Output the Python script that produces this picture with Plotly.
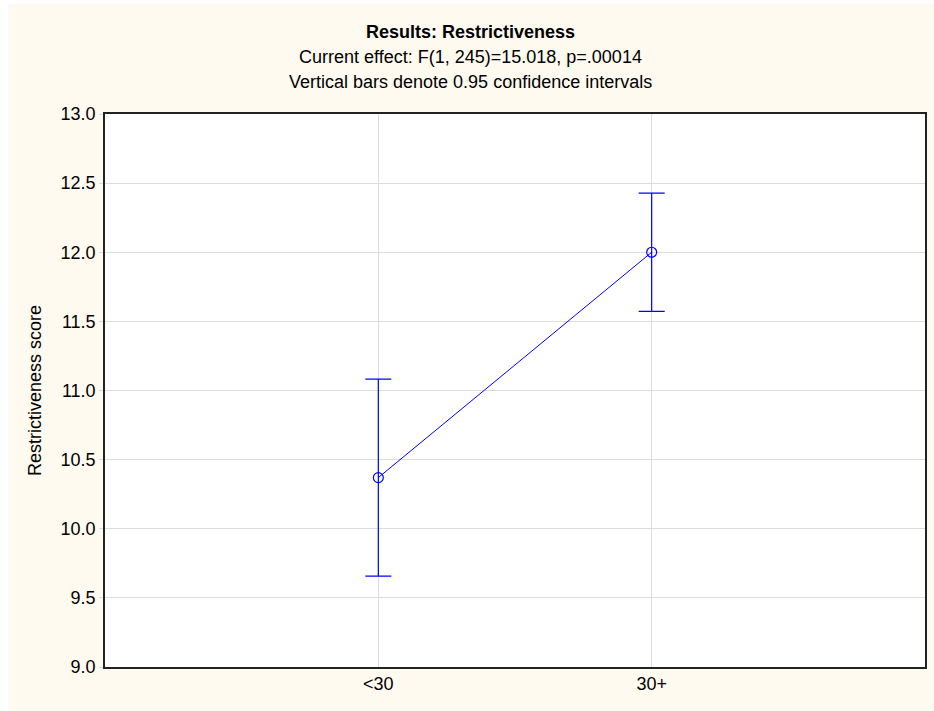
import plotly.graph_objects as go

# Group means and 95% confidence half-widths
groups = ["<30", "30+"]
means = [10.37, 12.0]
ci_half = [0.713, 0.428]

y_ticks = [9.0, 9.5, 10.0, 10.5, 11.0, 11.5, 12.0, 12.5, 13.0]

title_lines = [
    "<b>Results: Restrictiveness</b>",
    "Current effect: F(1, 245)=15.018, p=.00014",
    "Vertical bars denote 0.95 confidence intervals",
]

BLUE = "#0000FF"
CREAM = "#FFFAF0"
FONT = "Liberation Sans, Arial, sans-serif"
FS = 18

fig = go.Figure()
fig.add_trace(go.Scatter(
    x=[0, 1],
    y=means,
    mode="lines+markers",
    line=dict(color=BLUE, width=1),
    marker=dict(symbol="circle-open", size=10, color=BLUE, line=dict(width=1.2, color=BLUE)),
    error_y=dict(type="data", array=ci_half, visible=True, color=BLUE, thickness=1.2, width=13),
    showlegend=False,
))

W, H = 934, 711
L, R, T, B = 105, 7, 114, 44
pw, ph = W - L - R, H - T - B

def px_x(x):
    return (x - L) / pw

def px_y(y):
    return (H - B - y) / ph

annotations = []
for txt, yy in zip(title_lines, [32, 57, 82]):
    annotations.append(dict(
        text=txt, xref="paper", yref="paper", x=px_x(471), y=px_y(yy),
        xanchor="center", yanchor="middle", showarrow=False,
        font=dict(family=FONT, size=FS, color="black"),
    ))

# thin white border along the top and left edges of the canvas
edge = dict(fillcolor="white", line=dict(width=0), xref="paper", yref="paper", layer="below", type="rect")
shapes = [
    dict(edge, x0=px_x(-5), x1=px_x(8), y0=-0.3, y1=1.4),
    dict(edge, x0=px_x(-5), x1=1.2, y0=px_y(4), y1=1.4),
]

fig.update_layout(
    width=W, height=H,
    margin=dict(l=L, r=R, t=T, b=B, pad=0),
    paper_bgcolor=CREAM,
    plot_bgcolor="white",
    font=dict(family=FONT, size=FS, color="black"),
    annotations=annotations,
    shapes=shapes,
    xaxis=dict(
        range=[-1, 2],
        tickmode="array", tickvals=[0, 1], ticktext=groups,
        showgrid=True, gridcolor="#DCDCDC", gridwidth=1,
        showline=True, linecolor="#222222", linewidth=1.5, mirror=True,
        ticks="", zeroline=False,
        tickfont=dict(family=FONT, size=FS),
    ),
    yaxis=dict(
        range=[9, 13],
        tickmode="array", tickvals=y_ticks, ticktext=[f"{v:.1f}" for v in y_ticks],
        showgrid=True, gridcolor="#DCDCDC", gridwidth=1,
        showline=True, linecolor="#222222", linewidth=1.5, mirror=True,
        ticks="outside", ticklen=4, tickcolor="#DCDCDC",
        zeroline=False,
        tickfont=dict(family=FONT, size=FS),
        title=dict(text="Restrictiveness score", font=dict(family=FONT, size=FS), standoff=14),
    ),
)

fig.write_html("out.html")
